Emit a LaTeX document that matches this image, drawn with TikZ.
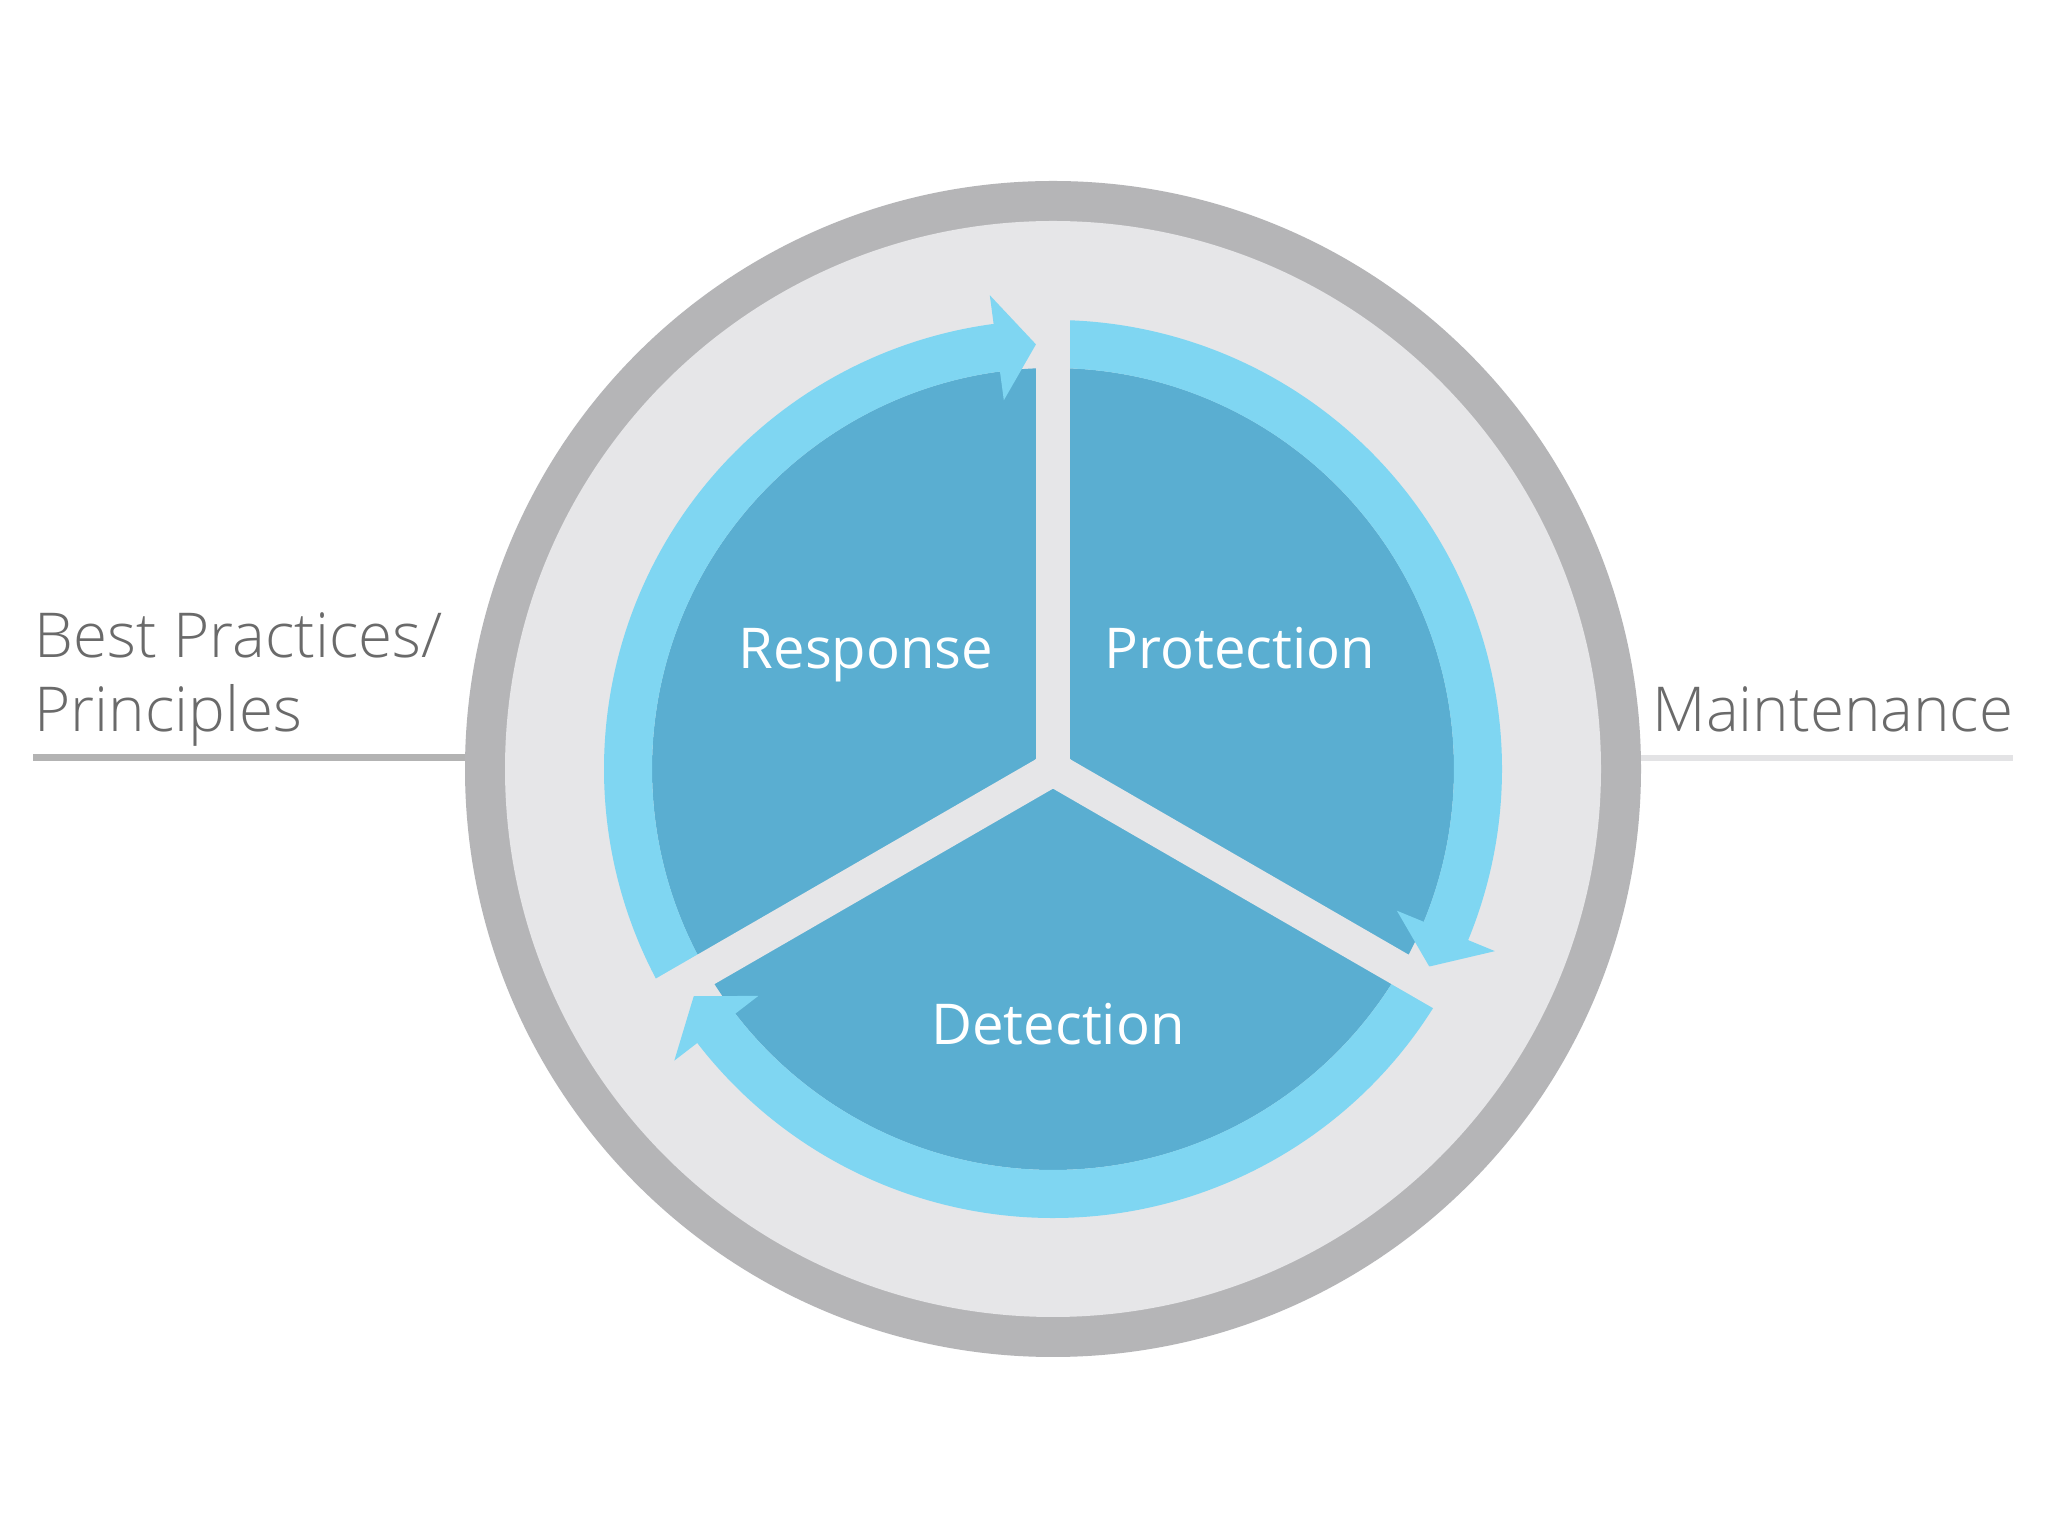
\documentclass[tikz,border=0pt]{standalone}
\usepackage{fontspec}
\setmainfont{Open Sans}
\newfontfamily\lightfont{Open Sans}[UprightFont=* Light]
\usetikzlibrary{calc}
\definecolor{ringgray}{HTML}{B5B5B7}
\definecolor{fillgray}{HTML}{E6E6E8}
\definecolor{darkblue}{HTML}{5AAED1}
\definecolor{lightblue}{HTML}{7FD6F2}
\definecolor{txtgray}{HTML}{6A6A6A}
\definecolor{leftline}{HTML}{B3B3B3}
\definecolor{rightline}{HTML}{E3E3E5}
\tikzset{
  ringarc/.style={draw=lightblue, line width=0.48cm, line cap=butt},
  arrowtip/.style={fill=lightblue},
  spokeline/.style={draw=fillgray, line width=0.34cm, line cap=butt},
  outerlabel/.style={text=txtgray, font=\lightfont\fontsize{17.6}{21}\selectfont, inner sep=0pt},
  innerlabel/.style={text=white, font=\fontsize{16}{19}\selectfont, inner sep=0pt}
}
\begin{document}
\begin{tikzpicture}[x=0.01cm,y=0.01cm]
\useasboundingbox[fill=white] (0,0) rectangle (2048,1536);
\coordinate (C) at (1053,767);
% side lines
\coordinate (lstart) at (33,778);
\coordinate (lend) at (480,778);
\coordinate (rstart) at (1620,778);
\coordinate (rend) at (2013,778);
\draw[leftline, line width=0.07cm] (lstart) -- (lend);
\draw[rightline, line width=0.06cm] (rstart) -- (rend);
% outer rings
\fill[ringgray] (C) circle[radius=588];
\fill[fillgray] (C) circle[radius=548];
\fill[darkblue] (C) circle[radius=401];
% arcs
\draw[ringarc] ($(C)+(210:425)$) arc[start angle=210, end angle=97, radius=425];
\fill[arrowtip] ($(C)+(97.6:372)$) -- ($(C)+(97.6:478)$) -- ($(C)+(92.3:425)$) -- cycle;
\draw[ringarc] ($(C)+(90:425)$) arc[start angle=90, end angle=-23, radius=425];
\fill[arrowtip] ($(C)+(-22.4:372)$) -- ($(C)+(-22.4:478)$) -- ($(C)+(-27.7:425)$) -- cycle;
\draw[ringarc] ($(C)+(-30:425)$) arc[start angle=-30, end angle=-143, radius=425];
\fill[arrowtip] ($(C)+(-142.4:372)$) -- ($(C)+(-142.4:478)$) -- ($(C)+(-147.7:425)$) -- cycle;
% spokes
\coordinate (s1) at ($(C)+(90:500)$);
\coordinate (s2) at ($(C)+(-30:500)$);
\coordinate (s3) at ($(C)+(210:500)$);
\draw[spokeline] (C) -- (s1);
\draw[spokeline] (C) -- (s2);
\draw[spokeline] (C) -- (s3);
\fill[fillgray] (C) circle[radius=20];
% labels
\node[innerlabel, anchor=base] (resp) at (866,867) {Response};
\node[innerlabel, anchor=base] (prot) at (1240,867) {Protection};
\node[innerlabel, anchor=base] (det) at (1058,491) {Detection};
\node[outerlabel, anchor=base west] (bp1) at (34,878) {Best Practices/};
\node[outerlabel, anchor=base west] (bp2) at (34,804) {Principles};
\node[outerlabel, anchor=base west] (mt) at (1652,804) {Maintenance};
\end{tikzpicture}
\end{document}
